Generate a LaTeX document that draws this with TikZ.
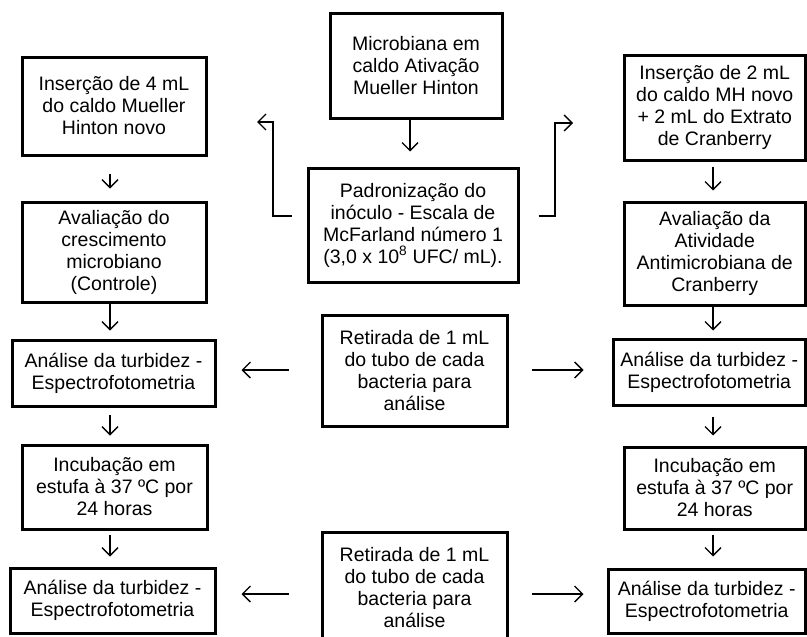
\documentclass[tikz,border=0pt]{standalone}
\usepackage{fontspec}
\setmainfont{Liberation Sans}
\usetikzlibrary{arrows.meta}
\begin{document}
\begin{tikzpicture}[x=1pt,y=-1pt,
  box/.style={draw, line width=3pt, inner sep=0pt, align=center, font=\fontsize{19.5}{22}\selectfont},
  arr/.style={line width=1.3pt, -{Straight Barb[length=8pt,width=16pt]}}]
\useasboundingbox (0,0) rectangle (807,637);
% centre column
\node[box, minimum width=172pt, minimum height=105pt] (mic) at (416,65.5) {Microbiana em\\caldo Ativação\\Mueller Hinton};
\node[box, minimum width=210pt, minimum height=114pt] (pad) at (413,225) {Padronização do\\inóculo - Escala de\\McFarland número 1\\(3,0 x 10\textsuperscript{8} UFC/ mL).};
\node[box, minimum width=185pt, minimum height=111pt] (c1) at (414.5,370.5) {Retirada de 1 mL\\do tubo de cada\\bacteria para\\análise};
\node[box, minimum width=185pt, minimum height=112pt] (c2) at (414.5,588) {Retirada de 1 mL\\do tubo de cada\\bacteria para\\análise};
% left column
\node[box, minimum width=184pt, minimum height=98pt] (l1) at (114,106) {Inserção de 4 mL\\do caldo Mueller\\Hinton novo};
\node[box, minimum width=184pt, minimum height=100pt] (l2) at (114,252) {Avaliação do\\crescimento\\microbiano\\(Controle)};
\node[box, minimum width=203pt, minimum height=66pt] (l3) at (113.5,373) {Análise da turbidez -\\Espectrofotometria};
\node[box, minimum width=185pt, minimum height=84pt] (l4) at (114.5,487) {Incubação em\\estufa à 37 ºC por\\24 horas};
\node[box, minimum width=205pt, minimum height=65pt] (l5) at (112.5,600.5) {Análise da turbidez -\\Espectrofotometria};
% right column
\node[box, minimum width=181.5pt, minimum height=105pt] (r1) at (714.75,107.5) {Inserção de 2 mL\\do caldo MH novo\\+ 2 mL do Extrato\\de Cranberry};
\node[box, minimum width=181.5pt, minimum height=103pt] (r2) at (714.75,253.5) {Avaliação da\\Atividade\\Antimicrobiana de\\Cranberry};
\node[box, minimum width=192.5pt, minimum height=66pt] (r3) at (709.25,372) {Análise da turbidez -\\Espectrofotometria};
\node[box, minimum width=181.5pt, minimum height=82pt] (r4) at (714.75,488) {Incubação em\\estufa à 37 ºC por\\24 horas};
\node[box, minimum width=197.5pt, minimum height=64pt] (r5) at (706.75,601) {Análise da turbidez -\\Espectrofotometria};
% helper coordinates
\coordinate (xl) at (110,0);
\coordinate (xr) at (713,0);
\coordinate (xc) at (410,0);
\coordinate (yt) at (0,370);
\coordinate (yb) at (0,594);
\coordinate (ys) at (0,216);
\coordinate (lc) at (273,122);
\coordinate (le) at (257,122);
\coordinate (rc) at (555,123);
\coordinate (re) at (573,123);
% vertical arrows
\draw[arr, shorten >=15pt] (mic.south -| xc) -- (pad.north -| xc);
\draw[arr, shorten <=17pt, shorten >=12pt] (l1.south -| xl) -- (l2.north -| xl);
\draw[arr, shorten >=8pt] (l2.south -| xl) -- (l3.north -| xl);
\draw[arr, shorten <=7pt, shorten >=8pt] (l3.south -| xl) -- (l4.north -| xl);
\draw[arr, shorten <=4pt, shorten >=10pt] (l4.south -| xl) -- (l5.north -| xl);
\draw[arr, shorten <=5pt, shorten >=10pt] (r1.south -| xr) -- (r2.north -| xr);
\draw[arr, shorten >=7pt] (r2.south -| xr) -- (r3.north -| xr);
\draw[arr, shorten <=10pt, shorten >=10pt] (r3.south -| xr) -- (r4.north -| xr);
\draw[arr, shorten <=4pt, shorten >=11pt] (r4.south -| xr) -- (r5.north -| xr);
% horizontal arrows
\draw[arr, shorten <=32pt, shorten >=25pt] (c1.west |- yt) -- (l3.east |- yt);
\draw[arr, shorten <=23pt, shorten >=28pt] (c1.east |- yt) -- (r3.west |- yt);
\draw[arr, shorten <=32pt, shorten >=25pt] (c2.west |- yb) -- (l5.east |- yb);
\draw[arr, shorten <=23pt, shorten >=23pt] (c2.east |- yb) -- (r5.west |- yb);
% bent arrows
\draw[arr, shorten <=15pt] (pad.west |- ys) -| (lc) -- (le);
\draw[arr, shorten <=19pt] (pad.east |- ys) -| (rc) -- (re);
\end{tikzpicture}
\end{document}
